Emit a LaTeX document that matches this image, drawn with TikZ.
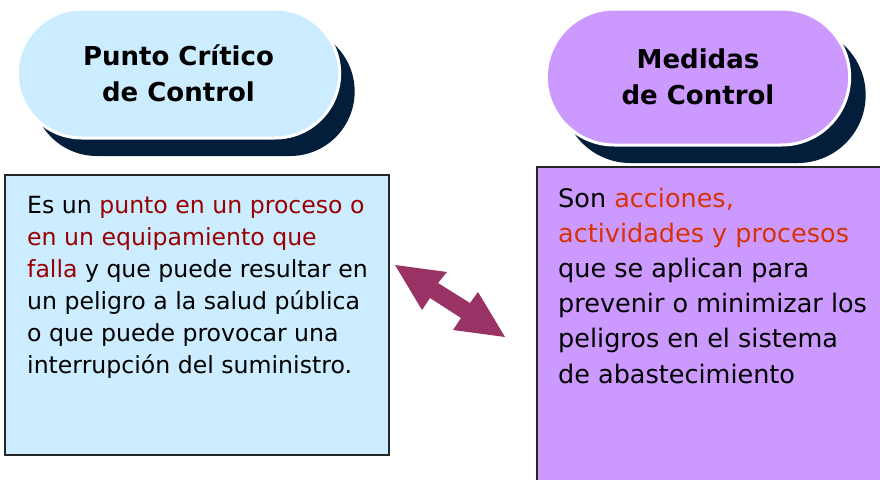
\documentclass[tikz,border=0pt]{standalone}
\usepackage{fontspec}
\setmainfont{DejaVu Sans}
\usepackage{xcolor}
\usetikzlibrary{shapes.misc}
\definecolor{pillblue}{RGB}{204,236,255}
\definecolor{pillviolet}{RGB}{204,153,255}
\definecolor{navyshadow}{RGB}{3,30,58}
\definecolor{darkred}{RGB}{153,0,0}
\definecolor{orangered}{RGB}{214,50,10}
\definecolor{plum}{RGB}{153,51,102}
\tikzset{pill/.style = {rounded rectangle, draw = white, line width = 3pt,
                        font = \fontsize{26}{36}\selectfont\bfseries, align = center}}
\tikzset{pillshadow/.style = {rounded rectangle, fill = navyshadow}}
\tikzset{infobox/.style = {draw = black!85, line width = 1.5pt}}
\tikzset{bodytext/.style = {anchor = base west, inner sep = 0, align = left}}

\begin{document}
\begin{tikzpicture}[x = 1pt, y = -1pt]
      \useasboundingbox (0, 0) rectangle (880, 479);

      \node [pillshadow, minimum width = 329pt, minimum height = 129pt] (pccshadow) at (193.5, 91.5) {};
      \node [pill, fill = pillblue, minimum width = 329pt, minimum height = 129pt] (pcc) at (178.5, 73.5) {Punto Crítico\\de Control};

      \node [pillshadow, minimum width = 310pt, minimum height = 136pt] (mcshadow) at (714, 95) {};
      \node [pill, fill = pillviolet, minimum width = 310pt, minimum height = 136pt] (mc) at (698, 77) {Medidas\\de Control};

      \draw [infobox, fill = pillblue] (5, 175) rectangle (389, 455);
      \draw [infobox, fill = pillviolet] (537, 167) rectangle (895, 495);

      % base anchor sits on the last line
      \node [bodytext, font = \fontsize{23.6}{32}\selectfont] (pcctext) at (27, 373)
            {Es un \textcolor{darkred}{punto en un proceso o}\\
             \textcolor{darkred}{en un equipamiento que}\\
             \textcolor{darkred}{falla} y que puede resultar en\\
             un peligro a la salud pública\\
             o que puede provocar una\\
             interrupción del suministro.};

      \node [bodytext, font = \fontsize{25.5}{35.2}\selectfont] (mctext) at (558, 383)
            {Son \textcolor{orangered}{acciones,}\\
             \textcolor{orangered}{actividades y procesos}\\
             que se aplican para\\
             prevenir o minimizar los\\
             peligros en el sistema\\
             de abastecimiento};

      \fill [plum] (395, 265) -- (447, 272) -- (438, 283) -- (470, 303) -- (478, 292)
            -- (505, 337) -- (453, 330) -- (461, 318) -- (430, 298) -- (422, 310) -- cycle;
    \end{tikzpicture}
\end{document}
